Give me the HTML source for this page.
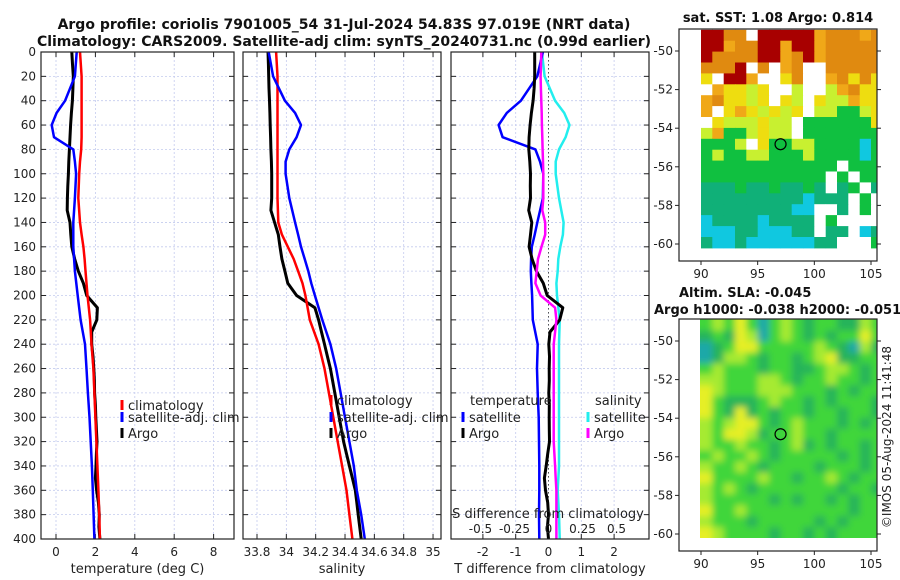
<!DOCTYPE html>
<html><head><meta charset="utf-8">
<style>
html,body{margin:0;padding:0;background:#fff;}
svg{display:block;font-family:"DejaVu Sans","Liberation Sans",sans-serif;}
</style></head>
<body>
<svg id="fig" width="900" height="580" viewBox="0 0 900 580" xmlns="http://www.w3.org/2000/svg">
<defs>
<filter id="smooth" x="-5%" y="-5%" width="110%" height="110%"><feGaussianBlur stdDeviation="3.5"/></filter>
<clipPath id="slaClip"><rect x="700" y="319" width="177" height="219"/></clipPath>
</defs>
<text x="344" y="29" font-size="14" font-weight="bold" text-anchor="middle" fill="#111">Argo profile: coriolis 7901005_54 31-Jul-2024 54.83S 97.019E (NRT data)</text>
<text x="344" y="46" font-size="14" font-weight="bold" text-anchor="middle" fill="#111">Climatology: CARS2009. Satellite-adj clim: synTS_20240731.nc (0.99d earlier)</text>
<g id="panels"></g>
<g id="maps"></g>
</svg>
<script>
// ---- profile data ----
const depths = [0,20,40,50,60,70,80,90,100,120,140,150,160,170,180,190,200,220,240,260,280,300,320,340,360,380,400];
const climT = [1.22,1.3,1.3,1.3,1.3,1.3,1.28,1.22,1.18,1.13,1.22,1.3,1.39,1.45,1.5,1.55,1.6,1.73,1.8,1.9,1.95,2.0,2.05,2.1,2.15,2.2,2.23];
const satT  = [1.05,0.96,0.46,0.03,-0.22,-0.1,0.88,0.96,1.02,0.96,0.88,0.88,0.88,0.92,0.96,1.03,1.1,1.25,1.47,1.55,1.62,1.7,1.76,1.82,1.87,1.91,1.95];
const climS = [33.93,33.94,33.94,33.94,33.94,33.94,33.94,33.94,33.94,33.94,33.945,33.97,34.01,34.05,34.08,34.11,34.13,34.16,34.22,34.26,34.29,34.32,34.35,34.38,34.41,34.43,34.45];
const satS  = [33.88,33.91,33.99,34.06,34.10,34.07,34.02,33.995,33.995,34.02,34.06,34.08,34.10,34.125,34.15,34.17,34.195,34.245,34.30,34.34,34.37,34.40,34.43,34.46,34.48,34.51,34.535];
const argoDepth = [0,10,20,30,40,50,60,70,80,90,100,110,120,130,140,150,160,170,180,190,200,210,220,230,240,250,260,270,280,290,300,310,320,330,340,350,360,370,380,390,400];
const argoT = [0.80,0.84,0.88,0.86,0.83,0.78,0.74,0.71,0.68,0.65,0.63,0.60,0.58,0.57,0.71,0.75,0.80,0.95,1.13,1.39,1.56,2.10,2.07,1.81,1.81,1.88,1.92,1.95,1.96,2.0,2.02,2.05,2.08,2.05,2.03,2.0,2.06,2.15,2.2,2.18,2.23];
const argoS = [33.875,33.878,33.88,33.882,33.885,33.888,33.89,33.893,33.895,33.898,33.9,33.9,33.9,33.895,33.92,33.945,33.957,33.97,33.99,34.01,34.07,34.195,34.22,34.24,34.26,34.28,34.30,34.315,34.33,34.345,34.36,34.375,34.39,34.41,34.43,34.45,34.47,34.48,34.49,34.50,34.51];
const depthTicks = [0,20,40,60,80,100,120,140,160,180,200,220,240,260,280,300,320,340,360,380,400];
const tempTicks = [0,2,4,6,8];
const salTicks = [33.8,34,34.2,34.4,34.6,34.8,35];
const salTickLabels = ["33.8","34","34.2","34.4","34.6","34.8","35"];
const diffTicks = [-2,-1,0,1,2];
const sdiffTicks = [-0.5,-0.25,0,0.25,0.5];
const sdiffLabels = ["-0.5","-0.25","0","0.25","0.5"];

const NS="http://www.w3.org/2000/svg";
function mk(tag, attrs, parent){const e=document.createElementNS(NS,tag);for(const k in attrs)e.setAttribute(k,attrs[k]);parent.appendChild(e);return e;}
const yD = d => 52 + d*1.2175;
const x1 = t => 56 + t*19.7;
const x2 = s => 257 + (s-33.8)*146.7;
const x3 = t => 548.5 + t*32.8;
const xS3 = s => 548.5 + s*4*32.8;
function interp(xs, ys, x){for(let i=0;i<xs.length-1;i++){if(x>=xs[i]&&x<=xs[i+1]){const f=(x-xs[i])/(xs[i+1]-xs[i]);return ys[i]+f*(ys[i+1]-ys[i]);}}return ys[ys.length-1];}
const P=document.getElementById('panels');

function panel(name,L,R,xf,ticks,labels,xlabel){
  const g=mk('g',{},P);
  
  
  depthTicks.forEach(d=>{const l=mk('line',{x1:L,x2:R,y1:yD(d),y2:yD(d),stroke:'#c4cbee','stroke-width':0.8,'stroke-dasharray':'2,2'},g);
    
    });
  ticks.forEach(v=>{const l=mk('line',{x1:xf(v),x2:xf(v),y1:52,y2:539,stroke:'#c4cbee','stroke-width':0.8,'stroke-dasharray':'2,2'},g);
    
    });
  depthTicks.forEach(d=>{mk('line',{x1:L,x2:L+5,y1:yD(d),y2:yD(d),stroke:'#222'},g);mk('line',{x1:R-5,x2:R,y1:yD(d),y2:yD(d),stroke:'#222'},g);});
  ticks.forEach((v,i)=>{mk('line',{x1:xf(v),x2:xf(v),y1:534,y2:539,stroke:'#222'},g);mk('line',{x1:xf(v),x2:xf(v),y1:52,y2:57,stroke:'#222'},g);
    const t=mk('text',{x:xf(v),y:556,'font-size':12,'text-anchor':'middle',fill:'#222'},g);t.textContent=labels[i];
    
    });
  const xl=mk('text',{x:(L+R)/2,y:573,'font-size':13,'text-anchor':'middle',fill:'#222'},g);xl.textContent=xlabel;
  
  
  return g;
}
function frame(g,L,R){const r=mk('rect',{x:L,y:52,width:R-L,height:487,fill:'none',stroke:'#222','stroke-width':1.2},g);
  
  }
function line(g,xs,ds,fx,color,w,name){
  const pts=xs.map((v,i)=>fx(v).toFixed(1)+','+yD(ds[i]).toFixed(1)).join(' ');
  const p=mk('polyline',{points:pts,fill:'none',stroke:color,'stroke-width':w,'stroke-linejoin':'round'},g);
  
  
}
function legend(g,x,y,color,label,name){
  mk('rect',{x:x-1.5,y:y-10,width:3,height:10,fill:color},g);
  const t=mk('text',{x:x+6,y:y,'font-size':13,fill:'#222'},g);t.textContent=label;
  
  
}

depthTicks.forEach(d=>{const t=mk('text',{x:36,y:yD(d)+4,'font-size':12,'text-anchor':'end',fill:'#222'},P);t.textContent=d;
  
  });

const g1=panel('temperature-panel',41,234,x1,tempTicks,tempTicks.map(String),'temperature (deg C)');
line(g1,argoT,argoDepth,x1,'#000',3,'argo-temperature-line');
line(g1,climT,depths,x1,'#f00',2.5,'climatology-temperature-line');
line(g1,satT,depths,x1,'#00f',2.5,'satellite-temperature-line');
frame(g1,41,234);
legend(g1,122,410,'#f00','climatology','legend-climatology');
legend(g1,122,422,'#00f','satellite-adj. clim','legend-satellite');
legend(g1,122,438,'#000','Argo','legend-argo');

const g2=panel('salinity-panel',243,441,x2,salTicks,salTickLabels,'salinity');
line(g2,argoS,argoDepth,x2,'#000',3,'argo-salinity-line');
line(g2,climS,depths,x2,'#f00',2.5,'climatology-salinity-line');
line(g2,satS,depths,x2,'#00f',2.5,'satellite-salinity-line');
frame(g2,243,441);
legend(g2,331,405,'#f00','climatology','legend-climatology');
legend(g2,331,422,'#00f','satellite-adj. clim','legend-satellite');
legend(g2,331,438,'#000','Argo','legend-argo');

const g3=panel('difference-panel',451,649,x3,diffTicks,diffTicks.map(String),'T difference from climatology');
mk('line',{x1:x3(0),x2:x3(0),y1:52,y2:539,stroke:'#555','stroke-width':1,'stroke-dasharray':'1.5,2.5'},g3);
const satTd=satT.map((v,i)=>v-climT[i]);
const satSd=satS.map((v,i)=>v-climS[i]);
const argoTd=argoT.map((v,i)=>v-interp(depths,climT,argoDepth[i]));
const argoSd=argoS.map((v,i)=>v-interp(depths,climS,argoDepth[i]));
line(g3,satSd,depths,xS3,'#22eeee',2.5,'satellite-salinity-diff-line');
line(g3,satTd,depths,x3,'#00f',2.5,'satellite-temperature-diff-line');
line(g3,argoTd,argoDepth,x3,'#000',3,'argo-temperature-diff-line');
line(g3,argoSd,argoDepth,xS3,'#f0f',2.5,'argo-salinity-diff-line');
frame(g3,451,649);
{const t=mk('text',{x:470,y:405,'font-size':13,fill:'#222'},g3);t.textContent='temperature';
 
 }
{const t=mk('text',{x:595,y:405,'font-size':13,fill:'#222'},g3);t.textContent='salinity';
 
 }
legend(g3,463,422,'#00f','satellite','legend-temp-satellite');
legend(g3,463,438,'#000','Argo','legend-temp-argo');
legend(g3,588,422,'#22eeee','satellite','legend-sal-satellite');
legend(g3,588,438,'#f0f','Argo','legend-sal-argo');
{const t=mk('text',{x:548,y:518,'font-size':13,'text-anchor':'middle',fill:'#222'},g3);t.textContent='S difference from climatology';
 
 }
sdiffTicks.forEach((v,i)=>{const t=mk('text',{x:(548.5+v*136).toFixed(1),y:533,'font-size':12,'text-anchor':'middle',fill:'#222'},g3);
  t.textContent=sdiffLabels[i];
  
  });

// ---- maps ----
const sstRows = [
"RROOWRRRRRoOOOoO","RRoOORRoRRoOOOOO","ROOOORRoORoOOOOO","OOORWOWoOWWOOOOO","YWRRoWWYOWWoOYOY",
"WoYYyYWWyWWyoOYY","oOYYyYWYyWYyyoYY","oWYoYyYyYWyyGGyY","WYyyyYyyWGGGGGGY","yoGGyYyyWGGGGGGG",
"GGGyWYGGyyGGGGCG","GyGGyyGGGyGGGGCG","GGGGGGGGGGGGWGGG","GGGGGGGGGGGWGWGG","TTTGTTGTTGTWTGWT",
"TTTTTTTTTCTTTWGW","TTTTTTTTCCWWTWGW","CTTTTCTTTTWGWWWW","CCCTTCCCTTWTTWCT","TCCTCCCCCCTTWWWG"];
const slaRows = [
"GyGYGCGyGgGGggyG","gGgYyCGyGgGgGGYG","CgGYYGGGGGyGgCyg","CgyyGgGGgGyYggGG","GyGGGgGGggGyyGgG",
"yyGGGyyGgGGyGGgG","YyGGGyyyGGGgGgGG","YGgggGyGGgGgGGGg","YGgYgGgGGgGGgGGg","yGyYYGgGyGGGgGgG",
"yGYYygGGyGGgGGGG","yGGyGGgGygGgGGgG","GyGGyGgGGGGGgGgG","yGGyGgGGGGgGGGgG","YGGGGyGGgGGyGgGG",
"yGyGgGGGGGGGgGGg","yGGGGGgGgGGgGgGG","YGGyGGGGGGGGGgGG","yGGGgGGGGGgGgGGG","YyGGGGgGGgGgGGGG"];
const sstColors = {R:'#a80000',O:'#e08a10',o:'#f0a818',Y:'#eedd10',y:'#c8f030',G:'#10c040',T:'#10b078',C:'#10c8e0',W:'#ffffff'};
const slaColors = {G:'#40d63a',g:'#28b45a',Y:'#e6ef28',y:'#a6ea30',C:'#1aa8a8'};
const lonTicks=[90,95,100,105];
const latTicks=[-50,-52,-54,-56,-58,-60];
const argoLon=97.019, argoLat=-54.83;
const M=document.getElementById('maps');
function mapPanel(name,top,rows,colors,fillCircle,smooth){
  const g=mk('g',{},M);
  
  
  const lx=v=>701+(v-90)*170/15;
  const ly=v=>top+22+(-50-v)*19.3;
  const lonW=1, latH=0.565;
  let cg=g;
  if(smooth){const clipG=mk('g',{'clip-path':'url(#slaClip)'},g);cg=mk('g',{filter:'url(#smooth)'},clipG);}
  const nr=rows.length;
  rows.forEach((row,r)=>{const nc=row.length;for(let c=0;c<nc;c++){
    const lon0=90+c*lonW, lat0=-48.9-r*latH;
    let x=lx(lon0), y=ly(lat0), w=lx(lon0+lonW)-x+0.5, h=ly(lat0-latH)-y+0.5;
    if(smooth){
      const pad=10;
      if(c==0){x-=pad;w+=pad;}
      if(c==nc-1){w+=pad;}
      if(r==0){y-=pad;h+=pad;}
      if(r==nr-1){h+=pad;}
    } else { w=Math.min(w,877-x); }
    const cell=mk('rect',{x:x.toFixed(1),y:y.toFixed(1),width:w.toFixed(1),height:h.toFixed(1),fill:colors[row[c]]},cg);
    
    
  }});
  const fr=mk('rect',{x:679,y:top,width:198,height:232,fill:'none',stroke:'#222','stroke-width':1.2},g);
  
  
  lonTicks.forEach(v=>{mk('line',{x1:lx(v),x2:lx(v),y1:top+232,y2:top+236,stroke:'#222'},g);
    const t=mk('text',{x:lx(v),y:top+249,'font-size':12,'text-anchor':'middle',fill:'#222'},g);t.textContent=v;
    
    });
  latTicks.forEach(v=>{mk('line',{x1:675,x2:679,y1:ly(v),y2:ly(v),stroke:'#222'},g);mk('line',{x1:877,x2:881,y1:ly(v),y2:ly(v),stroke:'#222'},g);
    const t=mk('text',{x:673,y:ly(v)+4,'font-size':12,'text-anchor':'end',fill:'#222'},g);t.textContent=v;
    
    });
  const c=mk('circle',{cx:lx(argoLon),cy:ly(argoLat),r:5.5,fill:fillCircle,stroke:'#000','stroke-width':1.2},g);
  
  
  return g;
}
mapPanel('sst-map',29,sstRows,sstColors,'#10c040',false);
mapPanel('sla-map',319,slaRows,slaColors,'none',true);
{const t=mk('text',{x:778,y:22,'font-size':13,'font-weight':'bold','text-anchor':'middle',fill:'#111'},M);t.textContent='sat. SST: 1.08 Argo: 0.814';
 
 }
{const t=mk('text',{x:679,y:297,'font-size':13,'font-weight':'bold',fill:'#111'},M);t.textContent='Altim. SLA: -0.045';
 
 }
{const t=mk('text',{x:654,y:314,'font-size':13,'font-weight':'bold',fill:'#111'},M);t.textContent='Argo h1000: -0.038 h2000: -0.051';
 
 }
{const t=mk('text',{x:0,y:0,'font-size':12,'text-anchor':'middle',fill:'#222',transform:'translate(891,437) rotate(-90)'},M);t.textContent='©IMOS 05-Aug-2024 11:41:48';
 
 }
</script>
</body></html>
